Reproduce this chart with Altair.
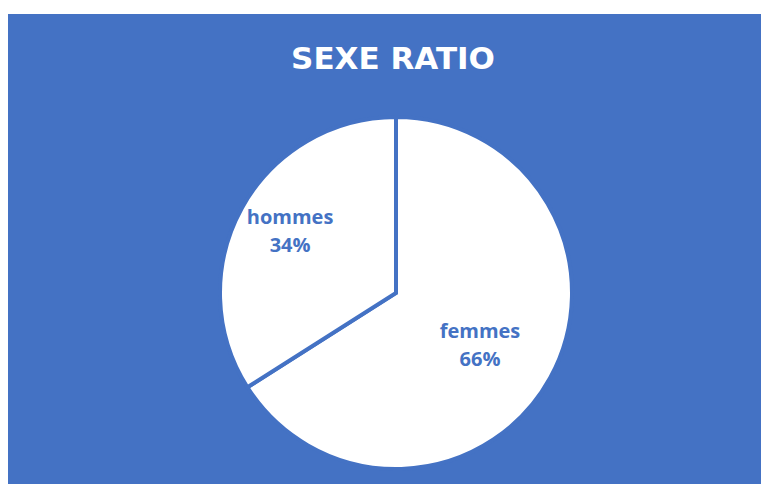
import altair as alt
import pandas as pd

# Data
categories = ["femmes", "hommes"]
values = [66, 34]
pct_labels = ["66%", "34%"]
title_text = "SEXE RATIO"

BLUE = "#4472C4"

df = pd.DataFrame({"sexe": categories, "part": values, "pct": pct_labels})

CX, CY = 388, 279  # pie centre inside the view

base = alt.Chart(df).transform_window(
    idx="row_number()"
)

pie = base.mark_arc(
    outerRadius=176, fill="white", stroke=BLUE, strokeWidth=4
).encode(
    theta=alt.Theta("part:Q", stack=True),
    order=alt.Order("idx:Q"),
    x=alt.value(CX),
    y=alt.value(CY),
)

lab_base = base.transform_joinaggregate(
    total="sum(part)"
).transform_window(
    cum="sum(part)", sort=[alt.SortField("idx")], frame=[None, 0]
).transform_calculate(
    mid="(datum.cum - datum.part / 2) / datum.total",
    label="datum.sexe + '\\n' + datum.pct",
)


def label_layer(name, r, dx, dy):
    return lab_base.transform_filter(
        alt.datum.sexe == name
    ).mark_text(
        radius=r, lineBreak="\n", lineHeight=28, fontSize=20,
        font="Open Sans", fontWeight="bold", color=BLUE,
        align="center", baseline="middle", dx=dx, dy=dy,
    ).encode(
        theta=alt.Theta("mid:Q", scale=alt.Scale(domain=[0, 1]), stack=None),
        text="label:N",
        x=alt.value(CX),
        y=alt.value(CY),
    )


lab_h = label_layer("hommes", 122, 1, -16)
lab_f = label_layer("femmes", 97, -1, -8)

title = alt.Chart(pd.DataFrame({"t": [title_text]})).mark_text(
    font="DejaVu Sans", fontWeight="bold", fontSize=31, color="white",
    align="center", baseline="alphabetic",
).encode(
    text="t:N",
    x=alt.value(385),
    y=alt.value(55),
)

chart = alt.layer(pie, lab_h, lab_f, title).resolve_scale(
    theta="independent"
).properties(
    width=753,
    height=470,
    padding={"left": 0, "top": 6, "right": 0, "bottom": 0},
    autosize=alt.AutoSizeParams(type="none"),
).configure(
    background="white",
    view=alt.ViewConfig(fill=BLUE, strokeWidth=0),
)

chart.save("out.html", embed_options={"renderer": "svg", "actions": False})
